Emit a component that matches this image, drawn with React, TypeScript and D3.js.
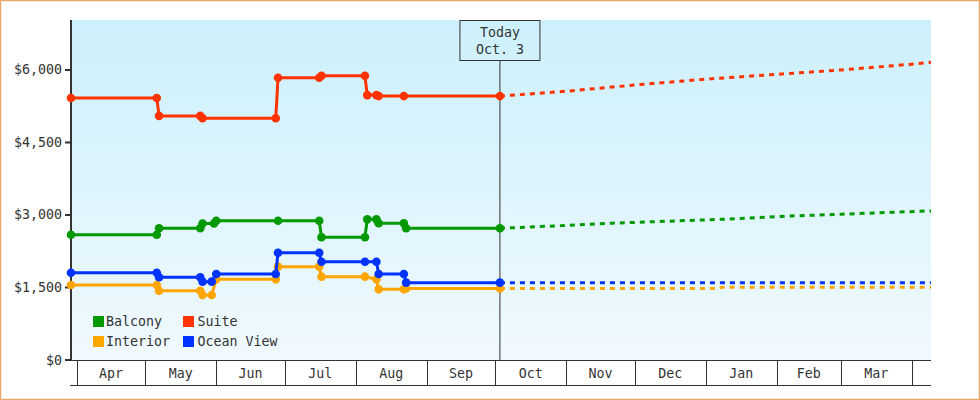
import React from "react";
import * as d3 from "d3";

type Pt = [string, number];

const START = "2018-03-29T12:00:00Z";
const END = "2019-04-09T10:30:00Z";
const TODAY = "2018-10-03";

const seriesNames = ["Balcony", "Interior", "Suite", "Ocean View"];
const seriesColors = ["#009900", "#ffa500", "#ff3300", "#0033ff"];

const balconyActual: Pt[] = [
  [START, 2590], ["2018-05-06", 2590], ["2018-05-07", 2725], ["2018-05-25", 2725],
  ["2018-05-26", 2825], ["2018-05-31", 2825], ["2018-06-01", 2880], ["2018-06-28", 2880],
  ["2018-07-16", 2880], ["2018-07-17", 2540], ["2018-08-05", 2540], ["2018-08-06", 2910],
  ["2018-08-10", 2910], ["2018-08-11", 2830], ["2018-08-22", 2830], ["2018-08-23", 2725],
  [TODAY, 2725],
];
const balconyForecast: Pt[] = [
  [TODAY, 2725], ["2018-10-30", 2780], ["2018-11-21", 2830], ["2019-01-16", 2925],
  ["2019-02-07", 2980], ["2019-03-01", 3015], ["2019-03-23", 3055], [END, 3085],
];

const interiorActual: Pt[] = [
  [START, 1552], ["2018-05-06", 1552], ["2018-05-07", 1434], ["2018-05-25", 1434],
  ["2018-05-26", 1345], ["2018-05-30", 1345], ["2018-06-01", 1669], ["2018-06-27", 1669],
  ["2018-06-28", 1931], ["2018-07-16", 1931], ["2018-07-17", 1724], ["2018-08-05", 1724],
  ["2018-08-10", 1669], ["2018-08-11", 1462], ["2018-08-22", 1462], ["2018-08-23", 1480],
  [TODAY, 1480],
];
const interiorForecast: Pt[] = [
  [TODAY, 1480], ["2019-01-07", 1480], ["2019-01-08", 1505], [END, 1505],
];

const suiteActual: Pt[] = [
  [START, 5420], ["2018-05-06", 5420], ["2018-05-07", 5050], ["2018-05-25", 5050],
  ["2018-05-26", 5000], ["2018-06-27", 5000], ["2018-06-28", 5840], ["2018-07-16", 5840],
  ["2018-07-17", 5880], ["2018-08-05", 5880], ["2018-08-06", 5480], ["2018-08-10", 5480],
  ["2018-08-11", 5460], ["2018-08-22", 5460], [TODAY, 5460],
];
const suiteForecast: Pt[] = [
  [TODAY, 5460], ["2018-11-01", 5560], ["2018-12-01", 5690], ["2019-01-01", 5810],
  ["2019-02-01", 5910], ["2019-03-01", 6000], ["2019-04-01", 6120], [END, 6160],
];

const oceanActual: Pt[] = [
  [START, 1806], ["2018-05-06", 1806], ["2018-05-07", 1711], ["2018-05-25", 1711],
  ["2018-05-26", 1621], ["2018-05-30", 1621], ["2018-06-01", 1779], ["2018-06-27", 1779],
  ["2018-06-28", 2220], ["2018-07-16", 2220], ["2018-07-17", 2034], ["2018-08-05", 2034],
  ["2018-08-10", 2034], ["2018-08-11", 1779], ["2018-08-22", 1779], ["2018-08-23", 1600],
  [TODAY, 1600],
];
const oceanForecast: Pt[] = [[TODAY, 1600], [END, 1600]];

const actuals = [balconyActual, interiorActual, suiteActual, oceanActual];
const forecasts = [balconyForecast, interiorForecast, suiteForecast, oceanForecast];

const yTicks = [0, 1500, 3000, 4500, 6000];
const monthLabels = ["Apr", "May", "Jun", "Jul", "Aug", "Sep", "Oct", "Nov", "Dec", "Jan", "Feb", "Mar"];
const todayLabel = ["Today", "Oct. 3"];

const W = 980;
const H = 400;
const L = 71;
const R = 931;
const T = 20;
const B = 360;
const FONT = "'DejaVu Sans Mono', 'Liberation Mono', monospace";
const INK = "#333333";
const FS = 13.3;

export default function App() {
  const x = d3.scaleUtc().domain([new Date(START), new Date(END)]).range([L, R]);
  const y = d3.scaleLinear().domain([0, 7034]).range([B, T]);
  const line = d3
    .line<Pt>()
    .x((d) => x(new Date(d[0])))
    .y((d) => y(d[1]));
  const fmt = (v: number) => "$" + d3.format(",")(v);

  const bounds = d3.utcMonth.range(new Date("2018-04-01T00:00:00Z"), new Date("2019-04-02T00:00:00Z"));
  const tx = x(new Date(TODAY));

  return (
    <div style={{ position: "absolute", left: 0, top: 0 }}>
      <svg width={W} height={H} style={{ display: "block" }} fontFamily={FONT}>
        <defs>
          <linearGradient id="bg" x1="0" y1="0" x2="0" y2="1">
            <stop offset="0" stopColor="#ccf0fc" />
            <stop offset="1" stopColor="#f0f9fe" />
          </linearGradient>
        </defs>
        <rect x={0} y={0} width={W} height={H} fill="#ffffff" />
        <rect x={0.5} y={0.5} width={W - 1} height={H - 1} fill="none" stroke="#e8a964" strokeWidth={1.5} />
        <rect x={L} y={T} width={R - L} height={B - T} fill="url(#bg)" />

        {/* today marker */}
        <line x1={tx} x2={tx} y1={T + 40} y2={B} stroke={INK} strokeWidth={1} />
        <rect x={tx - 40} y={T + 0.5} width={80} height={40} fill="none" stroke={INK} strokeWidth={1} />
        {todayLabel.map((t, i) => (
          <text key={t} x={tx} y={T + 17 + i * 17} textAnchor="middle" fontSize={FS} fill={INK}>
            {t}
          </text>
        ))}

        {/* y axis */}
        <line x1={L} x2={L} y1={T} y2={B} stroke={INK} strokeWidth={2} />
        {yTicks.map((v) => (
          <g key={v}>
            <line x1={L - 6} x2={L} y1={y(v)} y2={y(v)} stroke={INK} strokeWidth={2} />
            <text x={L - 9} y={y(v) + 4.5} textAnchor="end" fontSize={FS} fill={INK}>
              {fmt(v)}
            </text>
          </g>
        ))}

        {/* x axis band */}
        <line x1={L - 1} x2={R} y1={B + 0.5} y2={B + 0.5} stroke={INK} strokeWidth={1} />
        <line x1={L - 1} x2={R} y1={B + 25.5} y2={B + 25.5} stroke={INK} strokeWidth={1} />
        {bounds.map((d, i) => (
          <line key={"b" + i} x1={Math.round(x(d)) + 0.5} x2={Math.round(x(d)) + 0.5} y1={B} y2={B + 25} stroke={INK} strokeWidth={1} />
        ))}
        {monthLabels.map((m, i) => (
          <text
            key={m}
            x={(x(bounds[i]) + x(bounds[i + 1])) / 2}
            y={B + 18}
            textAnchor="middle"
            fontSize={FS}
            fill={INK}
          >
            {m}
          </text>
        ))}

        {/* forecasts */}
        {forecasts.map((f, i) => (
          <path key={"f" + i} d={line(f) || ""} fill="none" stroke={seriesColors[i]} strokeWidth={3} strokeDasharray="5,5" />
        ))}

        {/* actual series */}
        {actuals.map((s, i) => (
          <g key={"s" + i}>
            <path d={line(s) || ""} fill="none" stroke={seriesColors[i]} strokeWidth={3} strokeLinejoin="round" />
            {s.map((d, j) => (
              <circle key={j} cx={x(new Date(d[0]))} cy={y(d[1])} r={4.3} fill={seriesColors[i]} />
            ))}
          </g>
        ))}

        {/* legend */}
        {seriesNames.map((n, i) => {
          const col = Math.floor(i / 2);
          const row = i % 2;
          const lx = 93 + col * 90;
          const ly = 316 + row * 20;
          return (
            <g key={n}>
              <rect x={lx} y={ly} width={11} height={11} fill={seriesColors[i]} />
              <text x={lx + 13 + col * 1.5} y={ly + 10} fontSize={FS} fill={INK}>
                {n}
              </text>
            </g>
          );
        })}
      </svg>
    </div>
  );
}
